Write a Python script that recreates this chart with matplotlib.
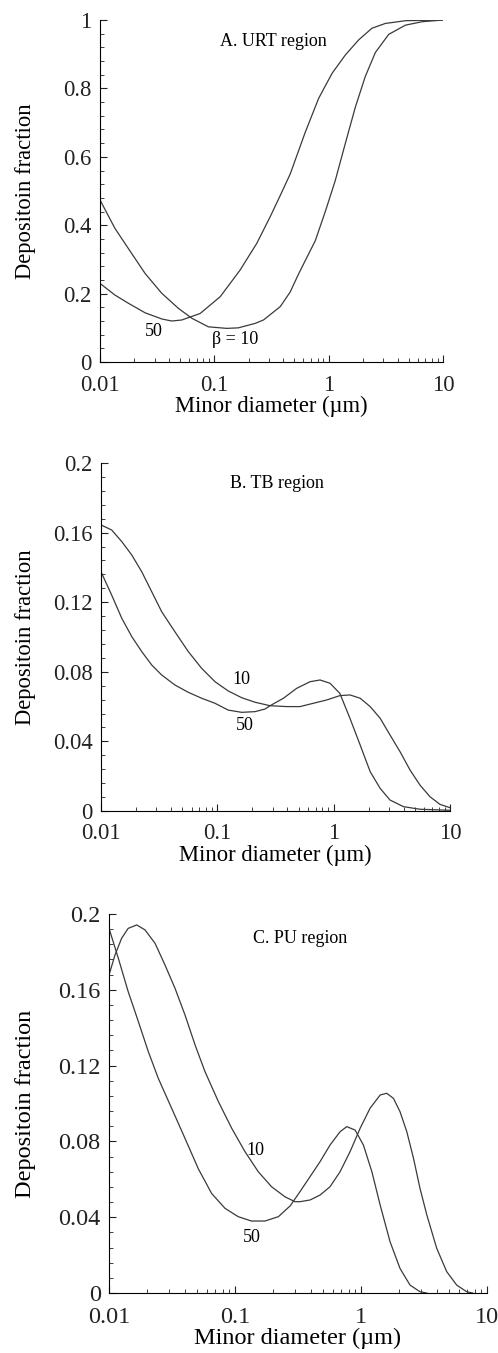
import matplotlib.pyplot as plt
from matplotlib.ticker import MultipleLocator, LogLocator, FixedLocator, FixedFormatter

plt.rcParams['font.family'] = ['Liberation Serif', 'DejaVu Serif']

# --- data (x = minor diameter in um) ---
# A. URT region
urt_x10 = [0.01, 0.0135, 0.0177, 0.0248, 0.0347, 0.0485, 0.0636, 0.0887, 0.1285, 0.162, 0.227,
           0.269, 0.377, 0.461, 0.546, 0.764, 0.934, 1.14, 1.40, 1.71, 2.09, 2.56, 3.35, 4.69,
           6.56, 10]
urt_y10 = [0.474, 0.391, 0.332, 0.259, 0.201, 0.157, 0.128, 0.103, 0.0985, 0.100, 0.113,
           0.123, 0.162, 0.205, 0.258, 0.355, 0.44, 0.53, 0.64, 0.745, 0.835, 0.905, 0.958, 0.985,
           0.995, 1.0]
urt_x50 = [0.01, 0.0135, 0.0177, 0.0248, 0.0347, 0.0424, 0.0519, 0.0751, 0.1125, 0.168, 0.235,
           0.308, 0.377, 0.461, 0.624, 0.817, 1.07, 1.40, 1.83, 2.39, 3.13, 4.69, 10]
urt_y50 = [0.23, 0.196, 0.172, 0.144, 0.126, 0.120, 0.123, 0.142, 0.191, 0.269, 0.347,
           0.425, 0.487, 0.55, 0.672, 0.771, 0.844, 0.898, 0.942, 0.976, 0.99, 0.998, 1.0]

# B. TB region
tb_x10 = [0.01, 0.01235, 0.0151, 0.0184, 0.0224, 0.0273, 0.0332, 0.0432, 0.0563, 0.0733, 0.0955,
          0.124, 0.162, 0.211, 0.284, 0.395, 0.514, 0.668, 0.871, 1.13, 1.38, 1.69, 2.06, 2.51,
          3.05, 3.72, 4.53, 5.52, 6.73, 8.2, 10]
tb_y10 = [0.1644, 0.1615, 0.1548, 0.1471, 0.1375, 0.126, 0.1146, 0.103, 0.0916, 0.082, 0.0743,
          0.069, 0.0651, 0.0625, 0.0605, 0.060, 0.060, 0.0619, 0.0638, 0.0663, 0.0667, 0.0648, 0.060,
          0.0533, 0.0437, 0.0341, 0.0236, 0.0149, 0.0082, 0.0038, 0.0019]
tb_x50 = [0.01, 0.01235, 0.0151, 0.0184, 0.0224, 0.0273, 0.0332, 0.0432, 0.0563, 0.0733, 0.0955,
          0.124, 0.162, 0.211, 0.257, 0.284, 0.37, 0.481, 0.627, 0.764, 0.931, 1.13, 1.38, 1.69,
          2.06, 2.51, 3.05, 3.98, 5.52, 10]
tb_y50 = [0.1375, 0.1241, 0.1107, 0.1002, 0.0916, 0.0839, 0.0782, 0.0724, 0.0682, 0.0648, 0.0619,
          0.058, 0.0567, 0.0571, 0.0586, 0.0605, 0.0648, 0.0705, 0.0743, 0.0753, 0.0734, 0.0676,
          0.0533, 0.0379, 0.0226, 0.013, 0.0063, 0.0025, 0.001, 0.0004]

# C. PU region
pu_x10 = [0.01, 0.01116, 0.0126, 0.0142, 0.0166, 0.0193, 0.0232, 0.0278, 0.0334, 0.0401, 0.0482,
          0.0578, 0.0738, 0.0942, 0.12, 0.153, 0.195, 0.249, 0.299, 0.328, 0.394, 0.473, 0.568,
          0.682, 0.819, 0.984, 1.18, 1.42, 1.6, 1.81, 2.04, 2.31, 2.61, 2.94, 3.33, 3.99, 4.79,
          5.75, 6.9, 7.7]
pu_y10 = [0.1678, 0.1784, 0.1872, 0.1924, 0.1942, 0.1916, 0.1845, 0.1731, 0.1608, 0.1467, 0.1309,
          0.1168, 0.101, 0.0869, 0.0746, 0.064, 0.0561, 0.0508, 0.0482, 0.0482, 0.0491, 0.0517,
          0.0561, 0.064, 0.0746, 0.0869, 0.0975, 0.1045, 0.1054, 0.1027, 0.0957, 0.0851, 0.0711,
          0.0552, 0.0412, 0.0236, 0.0113, 0.0042, 0.0007, 0.0]
pu_x50 = [0.01, 0.01186, 0.0142, 0.0171, 0.0205, 0.0246, 0.0314, 0.0401, 0.0512, 0.0653, 0.0833,
          0.106, 0.135, 0.173, 0.221, 0.274, 0.328, 0.394, 0.473, 0.568, 0.682, 0.771, 0.898,
          1.045, 1.22, 1.42, 1.70, 2.04, 2.45, 2.94, 3.33]
pu_y50 = [0.1924, 0.1766, 0.159, 0.1432, 0.1274, 0.1133, 0.0975, 0.0816, 0.0655, 0.0525, 0.0447,
          0.0403, 0.038, 0.038, 0.0403, 0.046, 0.0535, 0.0614, 0.0693, 0.0781, 0.0851, 0.0878,
          0.086, 0.0781, 0.064, 0.0464, 0.0271, 0.013, 0.0042, 0.0007, 0.0]

x_ticks = [0.01, 0.1, 1, 10]
x_labels = ['0.01', '0.1', '1', '10']

fig = plt.figure(figsize=(4.98, 13.53), dpi=100)

panels = [
    dict(rect=[0.2008, 0.7324, 0.6888, 0.2528], curves=[(urt_x10, urt_y10), (urt_x50, urt_y50)],
         ymax=1.0, major=0.2, minor=0.04, yfmt=['0', '0.2', '0.4', '0.6', '0.8', '1'],
         title=('A. URT region', 0.329, 0.937),
         labels=[('50', 0.0293, 0.09), ('\u03b2 = 10', 0.152, 0.065)],
         fs=16.3, xpad=9, ylab_x=-0.186),
    dict(rect=[0.2028, 0.4006, 0.7008, 0.2572], curves=[(tb_x10, tb_y10), (tb_x50, tb_y50)],
         ymax=0.2, major=0.04, minor=0.008, yfmt=['0', '0.04', '0.08', '0.12', '0.16', '0.2'],
         title=('B. TB region', 0.328, 0.188),
         labels=[('10', 0.162, 0.0754), ('50', 0.173, 0.0489)],
         fs=16.3, xpad=9, ylab_x=-0.186),
    dict(rect=[0.2189, 0.0443, 0.7590, 0.2802], curves=[(pu_x10, pu_y10), (pu_x50, pu_y50)],
         ymax=0.2, major=0.04, minor=0.008, yfmt=['0', '0.04', '0.08', '0.12', '0.16', '0.2'],
         title=('C. PU region', 0.327, 0.1873),
         labels=[('10', 0.144, 0.0754), ('50', 0.135, 0.0293)],
         fs=17.5, xpad=10, ylab_x=-0.193),
]

for p in panels:
    ax = fig.add_axes(p['rect'])
    for xs, ys in p['curves']:
        ax.plot(xs, ys, color='#3a3a3a', lw=0.9)
    ax.set_xscale('log')
    ax.set_xlim(0.01, 10)
    ax.set_ylim(0, p['ymax'])
    ax.spines['top'].set_visible(False)
    ax.spines['right'].set_visible(False)
    ax.xaxis.set_major_locator(FixedLocator(x_ticks))
    ax.xaxis.set_major_formatter(FixedFormatter(x_labels))
    ax.xaxis.set_minor_locator(LogLocator(base=10, subs=range(2, 10)))
    ax.yaxis.set_minor_locator(MultipleLocator(p['minor']))
    ax.set_yticks([i * p['major'] for i in range(6)])
    ax.set_yticklabels(p['yfmt'])
    ax.tick_params(which='both', direction='in', labelsize=p['fs'], colors='#222222')
    ax.tick_params(which='major', length=5)
    ax.tick_params(which='minor', length=3)
    ax.tick_params(axis='x', which='major', pad=p['xpad'])
    ax.tick_params(axis='y', which='major', pad=6)
    ax.set_xlabel('Minor diameter (\u00b5m)', fontsize=p['fs'], labelpad=0)
    ax.set_ylabel('Depositoin fraction', fontsize=p['fs'])
    ax.yaxis.set_label_coords(p['ylab_x'], 0.5)
    t, tx, ty = p['title']
    ax.text(tx, ty, t, fontsize=13, ha='center', va='center')
    for s, lx, ly in p['labels']:
        ax.text(lx, ly, s, fontsize=13, ha='center', va='center')

fig.savefig('out.png', dpi=100)
